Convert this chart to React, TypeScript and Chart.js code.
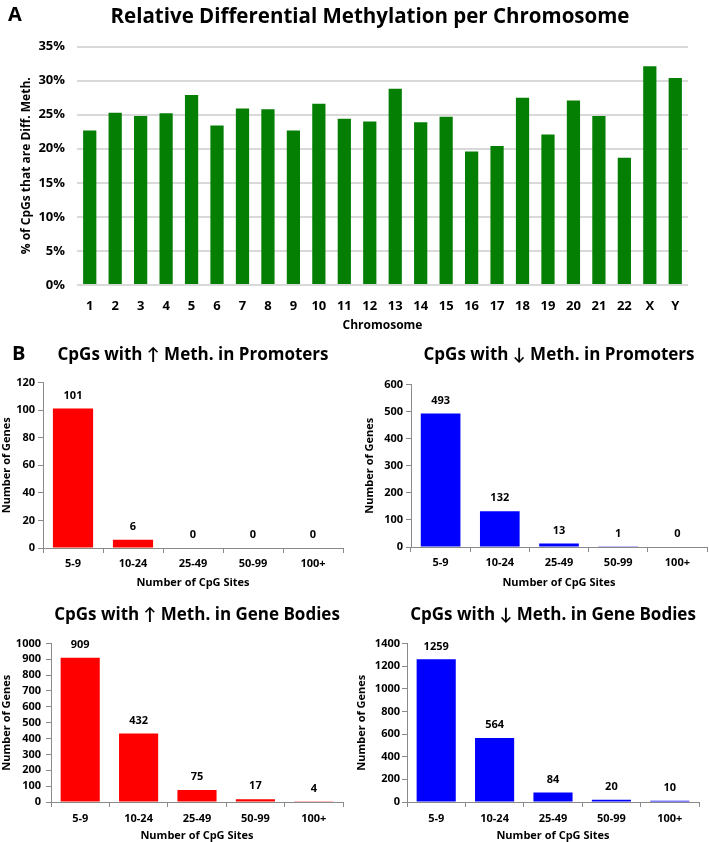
import React, { useEffect, useRef } from "react";
import { Chart, registerables } from "chart.js";
Chart.register(...registerables);

const chromosomes = ["1", "2", "3", "4", "5", "6", "7", "8", "9", "10", "11", "12", "13", "14", "15", "16", "17", "18", "19", "20", "21", "22", "X", "Y"];
const diffMethPct = [22.7, 25.3, 24.8, 25.2, 27.9, 23.4, 25.9, 25.8, 22.7, 26.6, 24.4, 24.0, 28.8, 23.9, 24.7, 19.6, 20.4, 27.5, 22.1, 27.1, 24.8, 18.7, 32.1, 30.4];

const siteBins = ["5-9", "10-24", "25-49", "50-99", "100+"];
const upPromoters = [101, 6, 0, 0, 0];
const downPromoters = [493, 132, 13, 1, 0];
const upBodies = [909, 432, 75, 17, 4];
const downBodies = [1259, 564, 84, 20, 10];

const FONT = "'Open Sans', Lato, sans-serif";
const AXIS_GRAY = "#8a8a8a";

const valueLabels = {
  id: "valueLabels",
  afterDatasetsDraw(chart: any) {
    const ctx = chart.ctx;
    const meta = chart.getDatasetMeta(0);
    const data = chart.data.datasets[0].data;
    ctx.save();
    ctx.font = `bold 11px ${FONT}`;
    ctx.fillStyle = "#000";
    ctx.textAlign = "center";
    ctx.textBaseline = "middle";
    meta.data.forEach((bar: any, i: number) => {
      ctx.fillText(String(data[i]), bar.x, bar.y - 13);
    });
    ctx.restore();
  },
};

function topConfig(): any {
  return {
    type: "bar",
    data: {
      labels: chromosomes,
      datasets: [
        {
          data: diffMethPct,
          backgroundColor: "#047f04",
          barPercentage: 0.52,
          categoryPercentage: 1,
        },
      ],
    },
    options: {
      animation: false,
      responsive: false,
      layout: { padding: 0 },
      plugins: {
        legend: { display: false },
        tooltip: { enabled: false },
        title: {
          display: true,
          text: "Relative Differential Methylation per Chromosome",
          color: "#000",
          font: { family: FONT, size: 20.5, weight: "bold", lineHeight: 1.2 },
          padding: { top: 5, bottom: 17 },
        },
      },
      scales: {
        x: {
          grid: { display: false },
          border: { display: false },
          ticks: { color: "#000", font: { family: FONT, size: 13, weight: "bold" }, padding: 5, maxRotation: 0, autoSkip: false },
          title: { display: true, text: "Chromosome", color: "#000", font: { family: FONT, size: 12, weight: "bold", lineHeight: 1.2 }, padding: { top: 0, bottom: 7 } },
          afterFit: (s: any) => { s.height = 55; },
        },
        y: {
          min: 0,
          max: 35,
          grid: { color: "#d9d9d9", lineWidth: 2, drawTicks: false },
          border: { display: false },
          ticks: { stepSize: 5, color: "#000", font: { family: FONT, size: 13, weight: "bold" }, padding: 12, callback: (v: any) => v + "%" },
          title: { display: true, text: "% of CpGs that are Diff. Meth.", color: "#000", font: { family: FONT, size: 12, weight: "bold", lineHeight: 1.2 }, padding: { top: 19, bottom: 0 } },
          afterFit: (s: any) => { s.width = 77; },
        },
        yRight: {
          position: "right",
          display: true,
          grid: { display: false },
          border: { display: false },
          ticks: { display: false },
          afterFit: (s: any) => { s.width = 52; },
        },
      },
    },
  };
}

interface SmallOpts {
  title: string;
  values: number[];
  color: string;
  max: number;
  step: number;
  yWidth: number;
  yTickPad: number;
  yTitlePad: number;
  titleBottomPad: number;
  xHeight: number;
  xTickPad: number;
  xTitlePad: number;
}

function smallConfig(o: SmallOpts): any {
  return {
    type: "bar",
    data: {
      labels: siteBins,
      datasets: [
        {
          data: o.values,
          backgroundColor: o.color,
          barPercentage: 0.67,
          categoryPercentage: 1,
        },
      ],
    },
    plugins: [valueLabels],
    options: {
      animation: false,
      responsive: false,
      layout: { padding: 0 },
      plugins: {
        legend: { display: false },
        tooltip: { enabled: false },
        title: {
          display: true,
          text: o.title,
          color: "#000",
          font: { family: FONT, size: 17, weight: "bold", lineHeight: 1.2 },
          padding: { top: 10, bottom: o.titleBottomPad },
        },
      },
      scales: {
        x: {
          grid: { offset: true, drawOnChartArea: false, drawTicks: true, tickLength: 5, color: AXIS_GRAY },
          border: { display: true, color: AXIS_GRAY },
          ticks: { color: "#000", font: { family: FONT, size: 11, weight: "bold" }, padding: o.xTickPad, maxRotation: 0, autoSkip: false },
          title: { display: true, text: "Number of CpG Sites", color: "#000", font: { family: FONT, size: 11, weight: "bold", lineHeight: 1.2 }, padding: { top: 0, bottom: o.xTitlePad } },
          afterFit: (s: any) => { s.height = o.xHeight; },
        },
        y: {
          min: 0,
          max: o.max,
          grid: { drawOnChartArea: false, drawTicks: true, tickLength: 5, color: AXIS_GRAY },
          border: { display: true, color: AXIS_GRAY },
          ticks: { stepSize: o.step, autoSkip: false, color: "#000", font: { family: FONT, size: 11, weight: "bold" }, padding: o.yTickPad, callback: (v: any) => String(v) },
          title: { display: true, text: "Number of Genes", color: "#000", font: { family: FONT, size: 11, weight: "bold", lineHeight: 1.2 }, padding: { top: o.yTitlePad, bottom: 0 } },
          afterFit: (s: any) => { s.width = o.yWidth; },
        },
        yRight: {
          position: "right",
          display: true,
          grid: { display: false },
          border: { display: false },
          ticks: { display: false },
          afterFit: (s: any) => { s.width = o.yWidth; },
        },
      },
    },
  };
}

function ChartBox(props: { left: number; top: number; width: number; height: number; make: () => any }) {
  const ref = useRef<HTMLCanvasElement | null>(null);
  useEffect(() => {
    if (!ref.current) return;
    const chart = new Chart(ref.current, props.make());
    return () => chart.destroy();
  }, []);
  return (
    <div style={{ position: "absolute", left: props.left, top: props.top, width: props.width, height: props.height }}>
      <canvas ref={ref} width={props.width} height={props.height} style={{ display: "block" }} />
    </div>
  );
}

export default function App() {
  const panelLabel: React.CSSProperties = { position: "absolute", fontFamily: FONT, fontWeight: "bold", fontSize: 20, color: "#000", lineHeight: "20px" };
  return (
    <div style={{ position: "absolute", left: 0, top: 0, width: 709, height: 842, overflow: "hidden", background: "#fff" }}>
      <ChartBox left={0} top={0} width={740} height={340} make={topConfig} />
      <ChartBox
        left={0} top={335} width={386} height={260}
        make={() => smallConfig({ title: "CpGs with ↑ Meth. in Promoters", values: upPromoters, color: "#ff0000", max: 120, step: 20, yWidth: 43, yTickPad: 3, yTitlePad: 0, titleBottomPad: 17, xHeight: 47, xTickPad: 4, xTitlePad: 6 })}
      />
      <ChartBox
        left={355} top={335} width={408} height={260}
        make={() => smallConfig({ title: "CpGs with ↓ Meth. in Promoters", values: downPromoters, color: "#0000ff", max: 600, step: 100, yWidth: 56, yTickPad: 3, yTitlePad: 8, titleBottomPad: 19, xHeight: 48, xTickPad: 4, xTitlePad: 6 })}
      />
      <ChartBox
        left={0} top={595} width={394} height={247}
        make={() => smallConfig({ title: "CpGs with ↑ Meth. in Gene Bodies", values: upBodies, color: "#ff0000", max: 1000, step: 100, yWidth: 51, yTickPad: 5, yTitlePad: 0, titleBottomPad: 18, xHeight: 40, xTickPad: 5, xTitlePad: 0 })}
      />
      <ChartBox
        left={355} top={595} width={396} height={247}
        make={() => smallConfig({ title: "CpGs with ↓ Meth. in Gene Bodies", values: downBodies, color: "#0000ff", max: 1400, step: 200, yWidth: 52, yTickPad: 2, yTitlePad: 0, titleBottomPad: 18, xHeight: 40, xTickPad: 5, xTitlePad: 0 })}
      />
      <div style={{ ...panelLabel, left: 8, top: 4 }}>A</div>
      <div style={{ ...panelLabel, left: 12, top: 343 }}>B</div>
    </div>
  );
}
